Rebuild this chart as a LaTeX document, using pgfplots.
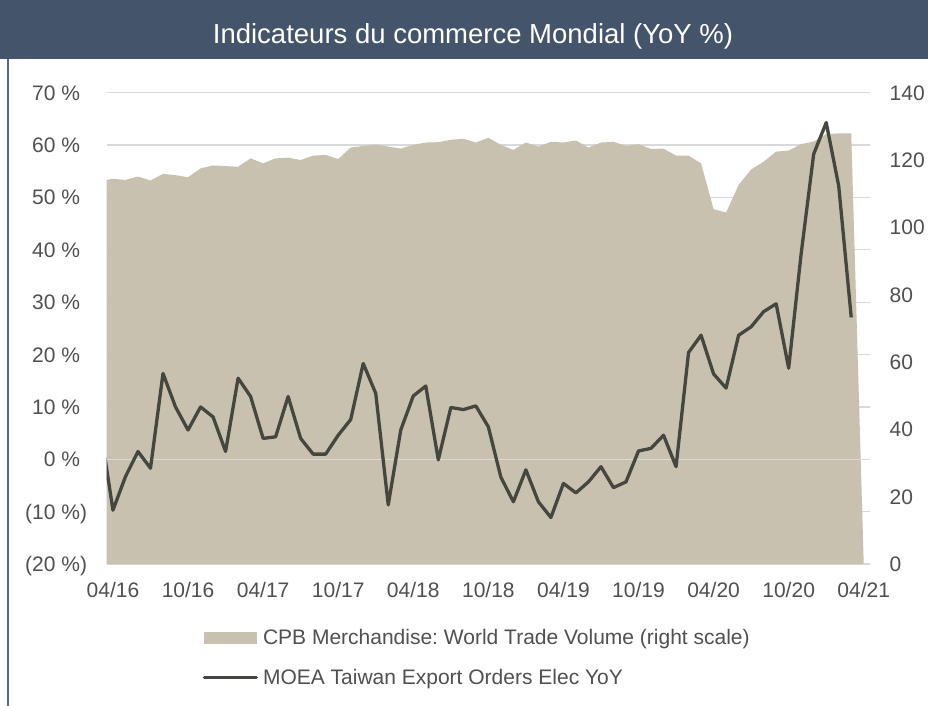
\documentclass[border=0pt]{standalone}
\usepackage{fontspec}
\setmainfont{Liberation Sans}
\usepackage{pgfplots}
\usepackage{pgfplotstable}
\pgfplotsset{compat=1.18}
\frenchspacing
\definecolor{titlebar}{HTML}{44546A}
\definecolor{areac}{HTML}{C8C1B0}
\definecolor{linec}{HTML}{45473F}
\definecolor{gridc}{HTML}{D9D9D9}
\definecolor{txt}{HTML}{505050}
\definecolor{borderc}{HTML}{5B6B7D}

\pgfplotstableread{
x y
-1 113.8
0 114.4
1 114.1
2 115.1
3 113.9
4 115.9
5 115.5
6 114.9
7 117.5
8 118.4
9 118.2
10 118.0
11 120.5
12 119.0
13 120.5
14 120.7
15 120.0
16 121.3
17 121.5
18 120.3
19 123.7
20 124.2
21 124.6
22 124.0
23 123.4
24 124.5
25 125.2
26 125.3
27 126.0
28 126.3
29 125.2
30 126.6
31 124.5
32 123.0
33 125.2
34 124.0
35 125.4
36 125.2
37 125.8
38 123.7
39 125.2
40 125.4
41 124.2
42 124.7
43 123.3
44 123.4
45 121.3
46 121.3
47 119.0
48 105.4
49 104.4
50 112.6
51 117.2
52 119.5
53 122.5
54 122.8
55 124.7
56 125.5
57 127.7
58 127.9
59 127.9
60 0
}\areadata

\pgfplotstableread{
x y
-1 6.0
0 -9.7
1 -3.3
2 1.5
3 -1.7
4 16.4
5 10.0
6 5.6
7 10.0
8 8.1
9 1.5
10 15.5
11 12.0
12 4.0
13 4.3
14 12.0
15 4.0
16 1.0
17 1.0
18 4.6
19 7.6
20 18.3
21 12.6
22 -8.7
23 5.6
24 12.1
25 14.0
26 -0.1
27 9.9
28 9.5
29 10.2
30 6.2
31 -3.4
32 -8.1
33 -2.0
34 -8.1
35 -11.1
36 -4.6
37 -6.4
38 -4.3
39 -1.4
40 -5.4
41 -4.3
42 1.6
43 2.1
44 4.6
45 -1.4
46 20.4
47 23.7
48 16.3
49 13.6
50 23.7
51 25.3
52 28.2
53 29.7
54 17.4
55 39.3
56 58.3
57 64.3
58 52.2
59 27.1
}\linedata

\pgfplotsset{
  base/.style={
    scale only axis, width=763.3pt, height=471.4pt,
    at={(106.7pt,141.9pt)}, anchor=south west,
    xmin=-0.5, xmax=60.5,
    axis line style={draw=none}, tick style={draw=none},
    ticklabel style={font=\fontsize{21}{25}\selectfont, text=txt, inner sep=0pt},
  }
}

\begin{document}
\begin{tikzpicture}[x=1pt,y=1pt]
\path[use as bounding box] (0,0) rectangle (928,706);
\fill[white] (0,0) rectangle (928,706);
\fill[titlebar] (0,647) rectangle (928,706);
\draw[borderc, line width=1.5pt] (8,0) -- (8,647);
\node[anchor=base, text=white, font=\fontsize{27.5}{33}\selectfont, inner sep=0pt] at (473,662.7) {Indicateurs du commerce Mondial (YoY \%)};

% Axis A: left scale, grid and labels
\begin{axis}[base,
  ymin=-20, ymax=70,
  ytick={-20,-10,...,70},
  yticklabels={{(20 \%)},{(10 \%)},{0 \%\phantom{)}},{10 \%\phantom{)}},{20 \%\phantom{)}},{30 \%\phantom{)}},{40 \%\phantom{)}},{50 \%\phantom{)}},{60 \%\phantom{)}},{70 \%\phantom{)}}},
  yticklabel style={anchor=base east, xshift=-19.4pt, yshift=-7.5pt},
  ymajorgrids, major grid style={gridc, line width=1.3pt},
  xtick={0,6,...,60},
  xticklabels={04/16,10/16,04/17,10/17,04/18,10/18,04/19,10/19,04/20,10/20,04/21},
  xticklabel style={anchor=base, yshift=-33pt},
]
\addplot[draw=none] coordinates {(0,0)};
\end{axis}

% Axis B: right scale, area
\begin{axis}[base,
  ymin=0, ymax=140,
  ytick={0,20,...,140},
  yticklabels={0,20,40,60,80,100,120,140},
  yticklabel pos=right,
  yticklabel style={anchor=base west, xshift=19.5pt, yshift=-7.5pt},
  xtick=\empty,
]
\addplot[draw=none, fill=areac] table[x=x,y=y]{\areadata} \closedcycle;
\end{axis}

% Axis C: left scale, zero line and line series, legend
\begin{axis}[base,
  ymin=-20, ymax=70,
  ytick=\empty, xtick=\empty,
  extra y ticks={0}, extra y tick labels={},
  extra y tick style={grid=major},
  major grid style={gridc, line width=1.3pt},
  legend style={draw=none, fill=none, at={(0.1258,-0.1388)}, anchor=north west,
    inner sep=0pt, outer sep=0pt, font=\fontsize{21}{25}\selectfont, text=txt,
    row sep=23pt, nodes={inner sep=0pt},
    /tikz/every odd column/.append style={column sep=5pt}},
  legend cell align=left,
]
\addlegendimage{legend image code/.code={\fill[areac] (0pt,-5.7pt) rectangle (52pt,5.7pt);}}
\addlegendentry{CPB Merchandise: World Trade Volume (right scale)}
\addplot[linec, line width=3.3pt, line join=round, mark=none,
  legend image code/.code={\draw[linec, line width=3.3pt, line cap=round] (0pt,0pt) -- (52pt,0pt);}]
  table[x=x,y=y]{\linedata};
\addlegendentry{MOEA Taiwan Export Orders Elec YoY}
\end{axis}
\end{tikzpicture}
\end{document}
